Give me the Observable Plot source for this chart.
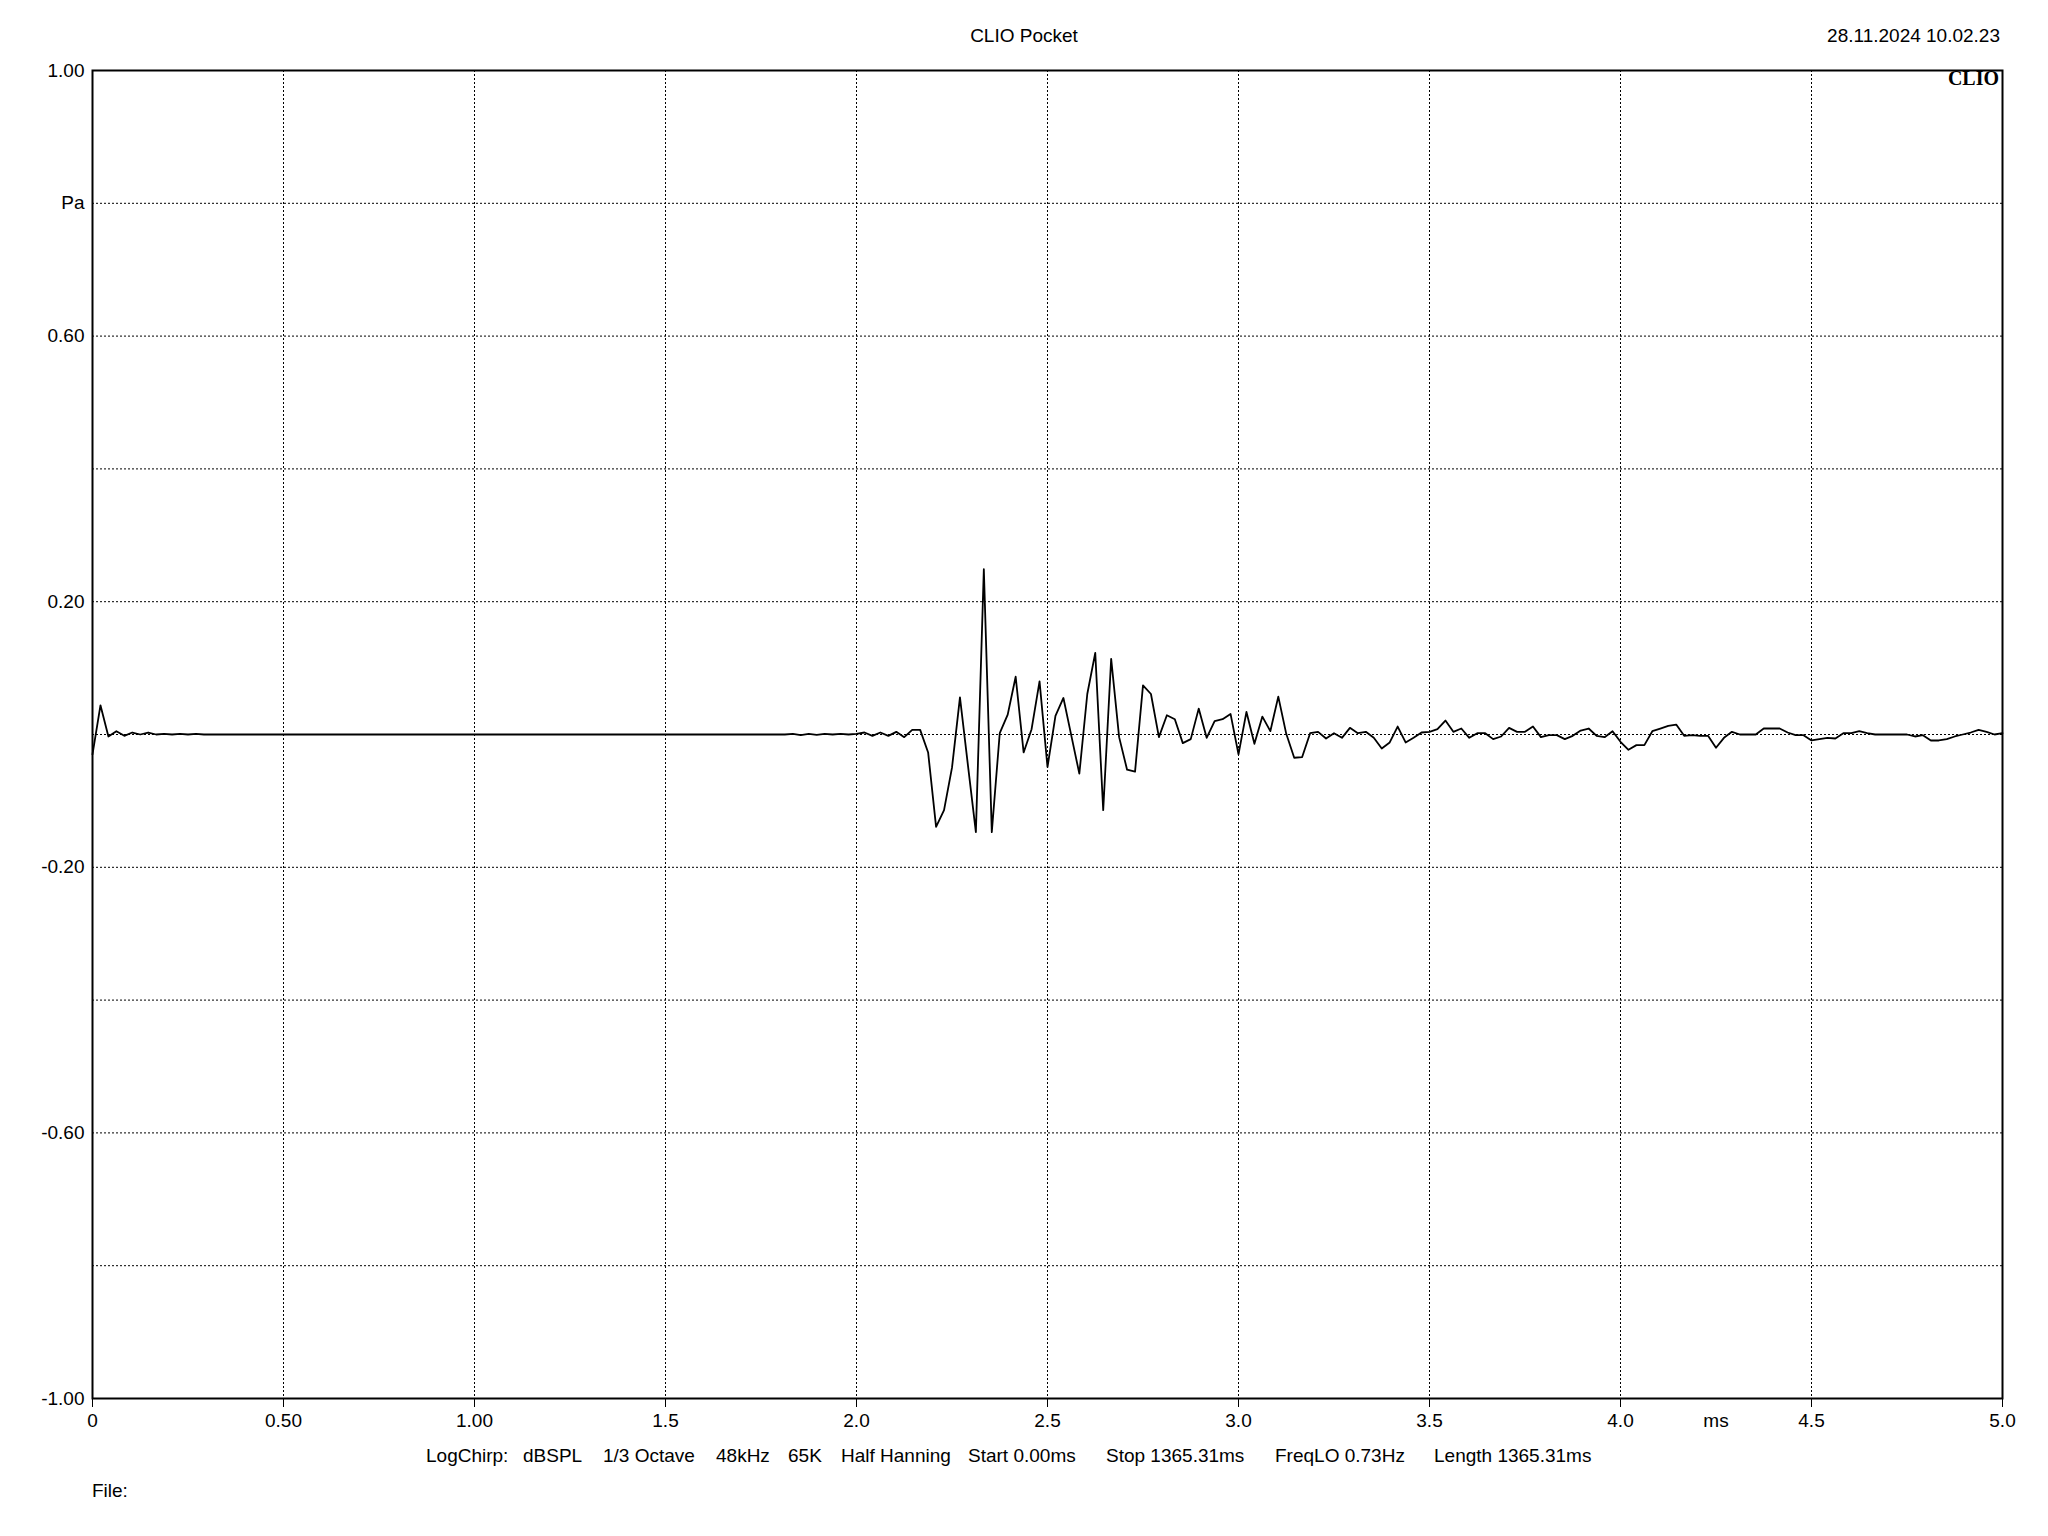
<!DOCTYPE html>
<html>
<head>
<meta charset="utf-8">
<script src="https://cdn.jsdelivr.net/npm/d3@7"></script>
<script src="https://cdn.jsdelivr.net/npm/@observablehq/plot@0.6"></script>
<style>
  html, body { margin: 0; padding: 0; background: #fff; }
  #chart { width: 2048px; height: 1536px; }
</style>
</head>
<body>
<div id="chart"></div>
<script>
// ---- data ----
const sampleRateKHz = 48; // samples per ms
const pressure = [
  -0.030, 0.044, -0.003, 0.005, -0.002, 0.003, 0.000, 0.003, 0.000, 0.001,
   0.000, 0.001, 0.000, 0.001,
   0, 0, 0, 0, 0, 0, 0, 0, 0, 0,
   0, 0, 0, 0, 0, 0, 0, 0, 0, 0,
   0, 0, 0, 0, 0, 0, 0, 0, 0, 0,
   0, 0, 0, 0, 0, 0, 0, 0, 0, 0,
   0, 0, 0, 0, 0, 0, 0, 0, 0, 0,
   0, 0, 0, 0, 0, 0, 0, 0, 0, 0,
   0, 0, 0, 0, 0, 0, 0, 0, 0, 0,
   0, 0, 0, 0,
   0.001, -0.001, 0.001, -0.0005, 0.001, 0.000, 0.001, 0.000, 0.001,
   0.003, -0.002, 0.003, -0.002, 0.004, -0.004, 0.007, 0.007,
  -0.027, -0.139, -0.114, -0.050, 0.056, -0.046, -0.147, 0.249, -0.147,
   0.002, 0.030, 0.087, -0.027, 0.008, 0.080, -0.049, 0.028, 0.055,
  -0.002, -0.059, 0.061, 0.123, -0.114, 0.114, -0.004, -0.053, -0.056,
   0.074, 0.061, -0.004, 0.029, 0.023, -0.013, -0.007, 0.039, -0.005,
   0.020, 0.023, 0.031, -0.030, 0.034, -0.014, 0.027, 0.005, 0.057,
   0.001, -0.035, -0.034, 0.002, 0.004, -0.006, 0.002, -0.005, 0.010,
   0.002, 0.004, -0.005, -0.021, -0.012, 0.012, -0.012, -0.005, 0.003,
   0.004, 0.008, 0.021, 0.004, 0.009, -0.005, 0.002, 0.002, -0.007,
  -0.003, 0.010, 0.004, 0.004, 0.012, -0.004, -0.001, -0.001, -0.007,
  -0.002, 0.006, 0.009, -0.002, -0.004, 0.005, -0.011, -0.023, -0.016,
  -0.016, 0.005, 0.009, 0.013, 0.015, -0.002, -0.001, -0.002, -0.002,
  -0.020, -0.005, 0.004, 0.000, 0.000, 0.000, 0.009, 0.009, 0.009,
   0.003, -0.001, -0.001, -0.009, -0.007, -0.005, -0.006, 0.002, 0.002,
   0.005, 0.002, 0.000, 0.000, 0.000, 0.000, 0.000, -0.003,
  -0.001, -0.009, -0.009, -0.007, -0.003, 0.000, 0.003, 0.007, 0.004,
   0.000, 0.002
];

const xTicks = [0, 0.5, 1, 1.5, 2, 2.5, 3, 3.5, 4, 4.5, 5];
const xTickLabels = ["0", "0.50", "1.00", "1.5", "2.0", "2.5", "3.0", "3.5", "4.0", "4.5", "5.0"];
const xUnitPos = [4.25];
const xUnitLabel = ["ms"];
const xGrid = [0.5, 1, 1.5, 2, 2.5, 3, 3.5, 4, 4.5];

const yTicks = [1, 0.8, 0.6, 0.4, 0.2, 0, -0.2, -0.4, -0.6, -0.8, -1];
const yTickLabels = ["1.00", "Pa", "0.60", "", "0.20", "", "-0.20", "", "-0.60", "", "-1.00"];
const yGrid = [0.8, 0.6, 0.4, 0.2, 0, -0.2, -0.4, -0.6, -0.8];

const titleText = "CLIO Pocket";
const dateText = "28.11.2024 10.02.23";
const logoText = "CLIO";
const infoItems = ["LogChirp:", "dBSPL", "1/3 Octave", "48kHz", "65K", "Half Hanning",
                   "Start 0.00ms", "Stop 1365.31ms", "FreqLO 0.73Hz", "Length 1365.31ms"];
const infoX = [426, 523, 603, 716, 788, 841, 968, 1106, 1275, 1434];
const fileText = "File:";

// ---- build ----
const data = pressure.map((v, i) => ({t: i / sampleRateKHz, v}));
const xLab = new Map(xTicks.map((d, i) => [d, xTickLabels[i]]));
const yLab = new Map(yTicks.map((d, i) => [d, yTickLabels[i]]));

const FONT = "'Liberation Sans', Arial, Helvetica, sans-serif";
const gridStyle = {stroke: "black", strokeOpacity: 1, strokeWidth: 1, strokeDasharray: "2,2"};

const chart = Plot.plot({
  width: 2048,
  height: 1536,
  marginLeft: 92,
  marginRight: 46,
  marginTop: 70,
  marginBottom: 138,
  x: {domain: [0, 5], label: null},
  y: {domain: [-1, 1], label: null},
  style: {fontFamily: FONT, fontSize: "19px", color: "black", background: "white"},
  marks: [
    Plot.gridX(xGrid, gridStyle),
    Plot.gridY(yGrid, gridStyle),
    Plot.line(data, {x: "t", y: "v", stroke: "black", strokeWidth: 1.8, curve: "linear"}),
    Plot.frame({stroke: "black", strokeWidth: 2}),
    Plot.axisX(xTicks, {tickSize: 9, tickPadding: 6, tickFormat: d => xLab.get(d), fontSize: 19}),
    Plot.axisX(xUnitPos, {tickSize: 0, tickPadding: 15, tickFormat: () => xUnitLabel[0], fontSize: 19}),
    Plot.axisY(yTicks, {tickSize: 0, tickPadding: 8, tickFormat: d => yLab.get(d), fontSize: 19})
  ]
});

const svg = d3.select(chart);
const addText = (x, y, txt, anchor, extra = {}) => {
  const t = svg.append("text")
    .attr("x", x).attr("y", y)
    .attr("text-anchor", anchor)
    .attr("fill", "black")
    .style("font-family", extra.family || FONT)
    .style("font-size", (extra.size || 19) + "px")
    .style("font-weight", extra.weight || "normal")
    .text(txt);
  return t;
};
addText(1024, 42, titleText, "middle");
addText(2000, 42, dateText, "end");
addText(1999, 85, logoText, "end", {family: "'Liberation Serif', 'Times New Roman', serif", weight: "bold", size: 20});
infoItems.forEach((s, i) => addText(infoX[i], 1462, s, "start"));
addText(92, 1497, fileText, "start");

document.getElementById("chart").appendChild(chart);
</script>
</body>
</html>
